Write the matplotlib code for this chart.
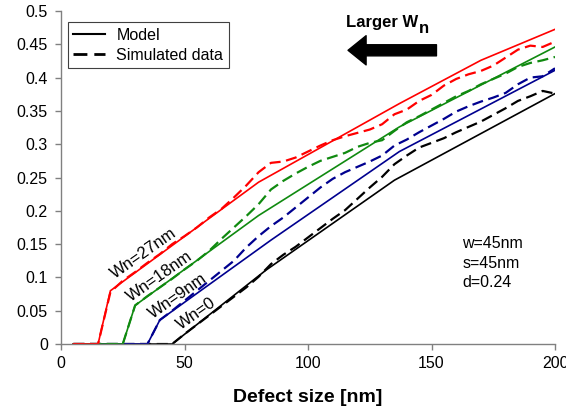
import numpy as np
import matplotlib
matplotlib.use('Agg')
import matplotlib.pyplot as plt

plt.rcParams['font.family'] = ['Liberation Sans', 'DejaVu Sans']

# model curves (piecewise linear breakpoints)
modelX0 = [5, 45, 83, 135, 200]
modelY0 = [0, 0, 0.111, 0.246, 0.376]
modelX9 = [5, 35, 40, 85, 137, 200]
modelY9 = [0, 0, 0.036, 0.156, 0.289, 0.411]
modelX18 = [5, 25, 30, 80, 137, 200]
modelY18 = [0, 0, 0.058, 0.193, 0.326, 0.446]
modelX27 = [5, 15, 20, 80, 137, 170, 200]
modelY27 = [0, 0, 0.08, 0.243, 0.361, 0.426, 0.4725]

# simulated data, sampled every 5 nm
simX = list(range(5, 205, 5))
simY0 = [0, 0, 0, 0, 0, 0, 0, 0, 0, 0.015, 0.029, 0.043, 0.057, 0.071, 0.085,
         0.101, 0.120, 0.134, 0.146, 0.160, 0.174, 0.188, 0.201, 0.218, 0.235,
         0.251, 0.270, 0.283, 0.295, 0.302, 0.309, 0.318, 0.326, 0.334, 0.344,
         0.354, 0.365, 0.372, 0.380, 0.376]
simY9 = [0, 0, 0, 0, 0, 0, 0, 0.036, 0.05, 0.065, 0.080, 0.095, 0.110, 0.125,
         0.145, 0.162, 0.177, 0.190, 0.205, 0.220, 0.235, 0.248, 0.258, 0.266,
         0.274, 0.283, 0.298, 0.307, 0.318, 0.328, 0.338, 0.349, 0.357, 0.364,
         0.370, 0.377, 0.390, 0.400, 0.402, 0.414]
simY18 = [0, 0, 0, 0, 0, 0.058, 0.072, 0.085, 0.098, 0.112, 0.125, 0.140,
          0.158, 0.175, 0.192, 0.210, 0.232, 0.245, 0.256, 0.266, 0.275, 0.281,
          0.287, 0.296, 0.302, 0.306, 0.320, 0.333, 0.342, 0.352, 0.362, 0.372,
          0.380, 0.390, 0.398, 0.406, 0.416, 0.422, 0.426, 0.431]
simY27 = [0, 0, 0, 0.078, 0.095, 0.108, 0.122, 0.135, 0.150, 0.162, 0.175,
          0.190, 0.203, 0.220, 0.238, 0.258, 0.272, 0.274, 0.280, 0.289, 0.298,
          0.306, 0.312, 0.317, 0.322, 0.330, 0.345, 0.352, 0.365, 0.374, 0.388,
          0.398, 0.405, 0.410, 0.418, 0.430, 0.442, 0.448, 0.446, 0.454]

colors = ['black', '#00008f', '#108a10', '#ff0000']
models = [(modelX0, modelY0), (modelX9, modelY9), (modelX18, modelY18), (modelX27, modelY27)]
sims = [simY0, simY9, simY18, simY27]

fig = plt.figure(figsize=(5.66, 4.12), dpi=100)
ax = fig.add_axes([0.1078, 0.165, 0.8728, 0.8083])

for (mx, my), sy, c in zip(models, sims, colors):
    ax.plot(mx, my, color=c, lw=1.2, solid_joinstyle='miter')
    ax.plot(simX, sy, color=c, lw=1.6, dashes=(5, 2.5))

# legend entries in black
ax.plot([], [], color='black', lw=1.5, label='Model')
ax.plot([], [], color='black', lw=2.0, dashes=(5, 2.5), label='Simulated data')
leg = ax.legend(loc='upper left', bbox_to_anchor=(0.0136, 0.966), borderaxespad=0,
                fontsize=11.5, fancybox=False, framealpha=1, edgecolor='#404040',
                handlelength=2.0, handletextpad=0.7, labelspacing=0.3, borderpad=0.35)
leg.get_frame().set_linewidth(0.8)

ax.set_xlim(0, 200)
ax.set_ylim(0, 0.5)
ax.set_xticks([0, 50, 100, 150, 200])
yt = [0, 0.05, 0.1, 0.15, 0.2, 0.25, 0.3, 0.35, 0.4, 0.45, 0.5]
ax.set_yticks(yt)
ax.set_yticklabels(['%g' % v for v in yt])
ax.tick_params(axis='both', labelsize=11.5, color='#808080', length=4.5, width=1)
ax.tick_params(axis='y', pad=5)
ax.tick_params(axis='x', pad=4)
for s in ['top', 'right']:
    ax.spines[s].set_visible(False)
for s in ['left', 'bottom']:
    ax.spines[s].set_color('#808080')
    ax.spines[s].set_linewidth(1)

ax.set_xlabel('Defect size [nm]', fontsize=14, fontweight='bold', labelpad=13)

# curve labels
labelPos = [(54.9, 0.045, 'Wn=0'), (47.5, 0.072, 'Wn=9nm'),
            (40.1, 0.101, 'Wn=18nm'), (33.3, 0.136, 'Wn=27nm')]
for lx, ly, txt in labelPos:
    ax.text(lx, ly, txt, fontsize=12, rotation=35, ha='center', va='center',
            rotation_mode='anchor')

ax.text(162.5, 0.1445, 'w=45nm', fontsize=11.5)
ax.text(162.5, 0.1145, 's=45nm', fontsize=11.5)
ax.text(162.5, 0.0855, 'd=0.24', fontsize=11.5)

ax.text(115.3, 0.476, 'Larger W', fontsize=12, fontweight='bold')
ax.text(144.9, 0.467, 'n', fontsize=12, fontweight='bold')
ax.annotate('', xy=(116.2, 0.441), xytext=(152.0, 0.441),
            arrowprops=dict(arrowstyle='simple,head_length=1.3,head_width=2.1,tail_width=0.8',
                            color='black', mutation_scale=10, shrinkA=0, shrinkB=0))

fig.savefig('out.png', dpi=100)
